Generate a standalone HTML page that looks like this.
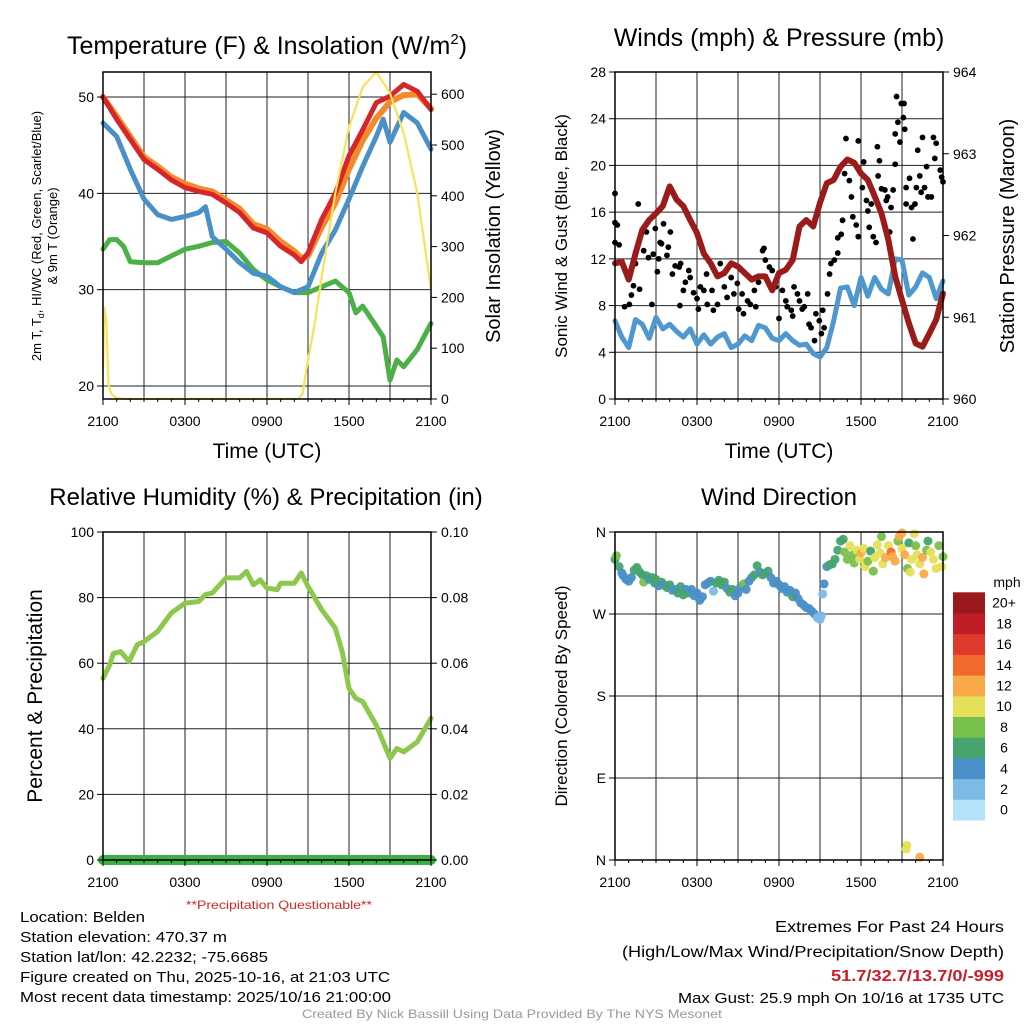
<!DOCTYPE html>
<html><head><meta charset="utf-8"><title>Mesonet Meteogram</title>
<style>
html,body{margin:0;padding:0;background:#fff;}
svg{display:block;font-family:"Liberation Sans",sans-serif;}
</style></head>
<body>
<svg id="fig" width="1024" height="1024" viewBox="0 0 1024 1024">
<rect width="1024" height="1024" fill="#fff"/>
<g id="layer"></g>
<!-- titles -->
<text x="267" y="54" font-size="25" text-anchor="middle">Temperature (F) &amp; Insolation (W/m<tspan font-size="15" dy="-10">2</tspan><tspan dy="10">)</tspan></text>
<text x="779" y="46" font-size="25" text-anchor="middle">Winds (mph) &amp; Pressure (mb)</text>
<text x="266" y="505" font-size="24" text-anchor="middle">Relative Humidity (%) &amp; Precipitation (in)</text>
<text x="779" y="505" font-size="24" text-anchor="middle">Wind Direction</text>
<!-- axis titles -->
<text x="267" y="458" font-size="21" text-anchor="middle">Time (UTC)</text>
<text x="779" y="458" font-size="21" text-anchor="middle">Time (UTC)</text>
<text transform="translate(41,236) rotate(-90)" font-size="13" text-anchor="middle">2m T, T<tspan font-size="9" dy="3">d</tspan><tspan dy="-3">, HI/WC (Red, Green, Scarlet/Blue)</tspan></text>
<text transform="translate(57,236) rotate(-90)" font-size="13" text-anchor="middle">&amp; 9m T (Orange)</text>
<text transform="translate(500,236) rotate(-90)" font-size="20" text-anchor="middle">Solar Insolation (Yellow)</text>
<text transform="translate(567,236) rotate(-90)" font-size="17" text-anchor="middle">Sonic Wind &amp; Gust (Blue, Black)</text>
<text transform="translate(1014,236) rotate(-90)" font-size="20" text-anchor="middle">Station Pressure (Maroon)</text>
<text transform="translate(42,696) rotate(-90)" font-size="21" text-anchor="middle">Percent &amp; Precipitation</text>
<text transform="translate(567,696) rotate(-90)" font-size="17" text-anchor="middle">Direction (Colored By Speed)</text>
<text x="279" y="909" font-size="12" fill="#d7262a" text-anchor="middle" textLength="186" lengthAdjust="spacingAndGlyphs">**Precipitation Questionable**</text>
<!-- info text -->
<g font-size="15">
<text x="20" y="922" textLength="125" lengthAdjust="spacingAndGlyphs">Location: Belden</text>
<text x="20" y="942" textLength="207" lengthAdjust="spacingAndGlyphs">Station elevation: 470.37 m</text>
<text x="20" y="962" textLength="248" lengthAdjust="spacingAndGlyphs">Station lat/lon: 42.2232; -75.6685</text>
<text x="20" y="982" textLength="370" lengthAdjust="spacingAndGlyphs">Figure created on Thu, 2025-10-16, at 21:03 UTC</text>
<text x="20" y="1002" textLength="371" lengthAdjust="spacingAndGlyphs">Most recent data timestamp: 2025/10/16 21:00:00</text>
</g>
<g font-size="16" text-anchor="end">
<text x="1004" y="932" textLength="229" lengthAdjust="spacingAndGlyphs">Extremes For Past 24 Hours</text>
<text x="1004" y="957" textLength="382" lengthAdjust="spacingAndGlyphs">(High/Low/Max Wind/Precipitation/Snow Depth)</text>
<text x="1004" y="981" font-weight="bold" fill="#c8202a" textLength="173" lengthAdjust="spacingAndGlyphs">51.7/32.7/13.7/0/-999</text>
<text x="1004" y="1003" font-size="15" textLength="326" lengthAdjust="spacingAndGlyphs">Max Gust: 25.9 mph On 10/16 at 1735 UTC</text>
</g>
<text x="512" y="1018" font-size="12" fill="#999" text-anchor="middle" textLength="420" lengthAdjust="spacingAndGlyphs">Created By Nick Bassill Using Data Provided By The NYS Mesonet</text>
</svg>
<script>
// ---- data ----
const hourTicks = ["2100","0300","0900","1500","2100"];
const tempHours = [0,1,2,3,4,5,6,7,8,9,10,11,12,13,14,14.5,15,16,17,18,19,20,21,22,23,24];
const temp2m = [50,47.7,45.6,43.5,42.5,41.4,40.6,40.2,39.9,39,38,36.4,35.9,34.5,33.6,32.9,33.8,37.3,40,43.9,46.6,49.4,50.1,51.3,50.6,48.7];
const temp9m = [50,48,45.9,43.8,42.8,41.7,41,40.5,40.2,39.3,38.4,36.8,36.3,35,34,33.3,33.5,36.5,39,42.5,45.5,47.8,49.5,50.2,50.3,48.8];
const hiwcHours = [0,1,2,3,4,5,6,7,7.5,8,9,10,11,12,13,14,15,16,17,18,19,20,20.5,21,22,23,24];
const hiwcVals = [47.3,45.9,42.5,39.4,37.8,37.3,37.6,38,38.6,35.5,34.2,32.8,31.7,31.4,30.3,29.7,30.3,33.8,36.2,39.4,42.8,45.9,47.7,45.3,48.4,47.3,44.6];
const dewHours = [0,0.5,1,1.5,2,3,4,5,6,7,8,9,10,11,12,13,14,15,16,17,18,18.5,19,20,20.5,21,21.5,22,23,24];
const dewVals = [34.2,35.2,35.2,34.5,32.9,32.8,32.8,33.5,34.2,34.5,34.9,35,33.8,32.1,31,30.3,29.7,29.7,30.3,30.9,29.7,27.6,28.3,26.2,25.1,20.6,22.7,22,23.8,26.5];
const solarHours = [0,0.1,0.25,0.4,0.6,1,1.5,14.3,14.6,15,15.5,16,17,18,19,20,21,22,23,24];
const solarVals = [60,180,150,30,10,2,0,0,10,77,150,240,405,535,614,644,602,523,405,215];

const windHours = [0,0.5,1,1.5,2,2.5,3,3.5,4,4.5,5,5.5,6,6.5,7,7.5,8,8.5,9,9.5,10,10.5,11,11.5,12,12.5,13,13.5,14,14.5,15,15.5,16,16.5,17,17.5,18,18.5,19,19.5,20,20.5,21,21.5,22,22.5,23,23.5,24];
const windVals = [6.7,5.3,4.4,6.8,6.4,5.2,7,6,6.4,5.8,5.3,6,4.7,5.5,4.7,5.3,5.6,4.4,4.7,5.4,5,6.3,6.1,5.2,5,5.6,5,4.6,4.7,3.9,3.6,4.4,6.7,9.5,9.6,8,10.4,8.8,10.4,9.4,9,12,11.9,8.9,9.6,10.8,10.4,8.6,10.1];
const presHours = [0,0.5,1,1.5,2,2.5,3,3.5,4,4.5,5,5.5,6,6.5,7,7.5,8,8.5,9,9.5,10,10.5,11,11.5,12,12.5,13,13.5,14,14.5,15,15.5,16,16.5,17,17.5,18,18.5,19,19.5,20,20.5,21,21.5,22,22.5,23,23.5,24];
const presVals = [961.66,961.68,961.46,961.78,962.07,962.19,962.27,962.36,962.6,962.44,962.36,962.19,962.03,961.78,961.66,961.5,961.54,961.66,961.62,961.54,961.46,961.5,961.5,961.33,961.54,961.58,961.7,962.11,962.19,962.11,962.4,962.64,962.68,962.84,962.93,962.89,962.76,962.68,962.48,962.27,961.95,961.5,961.21,960.93,960.68,960.64,960.8,960.97,961.29];
const gustHours = [0,0,0.17,0,0.3,0.7,1.05,1.2,1.35,1.7,1.8,1.5,2.1,2.3,2.45,2.8,2.95,3.2,3.3,3.4,3.55,3.8,3.9,4.05,3.1,2.7,4.2,4.4,4.7,4.8,4.75,5,5.15,5.4,5.5,5.75,6,6.1,6.25,6.5,6.7,6.75,7.1,7.2,7.5,7.7,8,8.2,8.5,8.7,8.95,9.05,9.3,9.4,9.7,9.9,10.2,10.3,10.5,10.8,10.9,11,11.3,11.5,11.75,12,12.25,12.5,12.6,12.9,13,13.1,13.35,13.5,13.7,13.85,14.1,14.2,14.35,14.6,14.7,14.95,15.1,15.2,15.3,15.55,15.7,15.8,16.05,16.3,16.3,16.55,16.65,16.9,16.8,17.15,17.3,17.4,17.65,17.8,17.8,18.1,18.2,18.4,18.5,18.6,18.75,18.9,19.1,19.2,19.25,19.35,19.5,19.75,19.85,19.95,20.1,20.2,20.35,20.5,20.5,20.6,20.7,20.85,20.95,21.1,21.15,21.2,21.3,21.3,21.55,21.7,21.8,22.05,21.95,22.15,22.3,22.4,22.5,22.65,22.8,22.9,23.15,23.3,23.4,23.5,23.8,23.9,24];
const gustVals = [17.6,15.1,14.9,13.4,13.2,7.9,8.1,8.9,9.7,16.7,9.4,11.6,12.7,14.3,12.1,12.4,14.6,12,13.4,13.3,15,12.3,13,14.3,10.9,8.1,10.7,11.4,11.3,11.6,8,9.3,10,11,10.4,9.1,8.6,7.7,9.6,9.3,10.7,8.1,9.3,7.6,8.1,11.6,9.6,8.7,10.4,9,9.9,7.7,9,7.3,8.4,8.1,9.3,7.9,10,12.7,12.9,11.9,11.3,11,9.6,6.9,9.3,8.4,7.9,7.6,7.1,9.6,9,8.4,7.7,7.9,9,6.4,6.1,5,7.3,6.7,5.6,7.6,6.1,9,10.7,11.6,11.9,12.5,13.8,14.1,15.3,22.3,19.3,18.7,17.3,15.6,14.9,13.9,22.1,18.1,20.3,17,16.1,14.7,16.7,13.9,13.4,21.6,19.1,20.4,18,17.9,17,17.3,14.3,16.4,17.9,20.1,22.7,25.9,23.7,22,25.3,24.1,25.3,23.1,18.1,16.7,18.9,16.4,13.7,18.1,16.7,21.3,19.1,17.7,22.4,18.1,19.9,17.3,17.3,22.4,20.6,21.9,19.6,19,18.6];

const rhHours = [0,0.5,0.75,1.3,1.9,2.5,3,4,5,6,7,7.5,8,9,10,10.5,11,11.5,12,12.75,13,14,14.5,15,16,17,17.5,18,18.5,19,20,21,21.5,22,23,24];
const rhVals = [55.4,59.5,63,63.5,60.5,65.6,66.6,69.7,75.3,78.3,78.8,80.9,81.4,86,86,88,83.9,85.4,82.9,82.4,84.4,84.4,87.5,83.4,76.3,70.7,63.5,52.3,49.3,48.3,41.1,31,34,33,36,43.2];
const precipHours = [0,24];
const precipVals = [0,0];

const dirHours = [0,0.1,0.3,0.5,0.6,0.8,1.0,1.2,1.4,1.6,1.8,2.0,2.1,2.3,2.5,2.7,2.9,3.0,3.2,3.4,3.6,3.8,4.0,4.2,4.4,4.6,4.8,5.0,5.2,5.4,5.6,5.8,6.0,6.2,6.4,6.6,6.8,7.0,7.2,7.4,7.6,7.8,8.0,8.2,8.4,8.6,8.8,9.0,9.2,9.4,9.6,9.8,10.0,10.2,10.4,10.6,10.8,11.0,11.2,11.4,11.6,11.8,12.0,12.2,12.4,12.6,12.8,13.0,13.2,13.4,13.6,13.8,14.0,14.2,14.4,14.6,14.8,15.0,15.1,15.2,15.3,15.5,15.7,15.9,16.1,16.3,16.5,16.7,16.8,17,17.2,17.4,17.5,17.7,17.9,18,18.2,18.3,18.5,18.7,18.9,19,19.2,19.4,19.5,19.6,19.8,20,20.2,20.3,20.5,20.7,20.8,21,21,21.2,21.4,21.5,21.6,21.7,21.9,22,22.1,22.3,22.5,22.6,22.8,22.9,23.1,23.3,23.5,23.7,23.9,24,21.3,21.35,22.3];
const dirDeg = [330,334,322,315,312,308,306,310,318,321,316,313,305,312,308,310,304,308,301,305,302,299,302,296,297,293,300,291,297,293,297,290,293,285,289,302,304,306,295,304,307,302,305,298,294,297,290,293,300,303,297,306,310,313,323,316,313,315,317,310,304,306,302,298,300,294,296,289,293,287,282,280,277,276,273,270,266,264,268,292,303,322,324,325,330,340,350,352,338,330,345,335,326,340,330,337,342,322,328,339,317,332,346,337,355,325,332,345,338,333,328,350,355,359,342,335,320,348,316,330,358,345,335,325,332,314,340,350,338,330,320,345,322,333,12,16,3];
const dirSpeed = [7,8,6,5,4,4,4,5,6,6,6,6,8,6,5,6,6,6,4,6,5,6,6,5,5,6,6,6,4,6,4,4,4,4,5,4,4,4,2,6,6,6,6,4,6,6,4,4,4,8,4,4,4,6,6,4,6,6,6,4,4,4,4,4,4,4,4,6,4,4,4,4,4,4,4,4,2,2,2,2,4,4,6,6,6,6,6,6,8,9,10,8,8,10,10,12,10,10,8,6,8,10,10,10,8,10,12,10,14,12,12,8,12,12,10,12,8,6,10,10,10,8,10,10,12,12,8,6,10,10,10,8,10,8,10,10,12];

const cbarLabels = ["0","2","4","6","8","10","12","14","16","18","20+"];
const cbarColors = ["#b4e2f8","#7dbbe6","#4a8fc8","#47a36e","#78c04c","#e6df58","#f9aa48","#f26a2b","#df3a2d","#c01e27","#99191d"];

// ---- helpers ----
const NS = "http://www.w3.org/2000/svg";
const layer = document.getElementById("layer");
function mk(tag, attrs, parent){
  const el = document.createElementNS(NS, tag);
  for (const k in attrs) el.setAttribute(k, attrs[k]);
  (parent||layer).appendChild(el);
  return el;
}
function panel(x0,x1,y0,y1){ return {x0,x1,y0,y1, xs:h=>x0+(x1-x0)*h/24}; }
function yScale(p, lo, hi){ return v => p.y1 - (v-lo)/(hi-lo)*(p.y1-p.y0); }

const P1 = panel(103,431,72,399), P2 = panel(615,943,72,399), P3 = panel(103,431,532,860), P4 = panel(615,943,532,860);
const yT = yScale(P1, 18.65, 52.6), yS = yScale(P1, 0, 643.7);
const yW = yScale(P2, 0, 28), yP = yScale(P2, 960, 964);
const yRH = yScale(P3, 0, 100), yPr = yScale(P3, 0, 0.1);
const yD = yScale(P4, 0, 360);

function grid(p, hvals, hname){
  for (let h=3; h<24; h+=3){
    const l = mk("line",{x1:p.xs(h),x2:p.xs(h),y1:p.y0,y2:p.y1,stroke:"#222","stroke-width":1});
    
    
  }
  hvals.forEach(y=>{
    const l = mk("line",{x1:p.x0,x2:p.x1,y1:y,y2:y,stroke:"#222","stroke-width":1});
    
    
  });
}
function frame(p, name){
  const r = mk("rect",{x:p.x0,y:p.y0,width:p.x1-p.x0,height:p.y1-p.y0,fill:"none",stroke:"#000","stroke-width":1.5});
  
  
  hourTicks.forEach((t,i)=>{
    const x = p.xs(i*6);
    const tl = mk("line",{x1:x,x2:x,y1:p.y1,y2:p.y1+6,stroke:"#000"});
    
    
    const tx = mk("text",{x:x,y:p.y1+27,"font-size":14,"text-anchor":"middle"});
    tx.textContent = t;
    
    
  });
  for (let h=1; h<24; h++){
    if (h%6===0) continue;
    const x=p.xs(h);
    const ml = mk("line",{x1:x,x2:x,y1:p.y1,y2:p.y1+3,stroke:"#000"});
    
    
  }
}
function yAxis(p, side, vals, labels, ys, name){
  vals.forEach((v,i)=>{
    const y = ys(v);
    const x = side==="left"?p.x0:p.x1;
    const d = side==="left"?-6:6;
    const tl = mk("line",{x1:x,x2:x+d,y1:y,y2:y,stroke:"#000"});
    
    
    const tx = mk("text",{x:side==="left"?x-9:x+10,y:y+5,"font-size":14,"text-anchor":side==="left"?"end":"start"});
    tx.textContent = labels[i];
    
    
  });
}
function line(p, hours, vals, ys, color, w, name){
  const pts = hours.map((h,i)=>p.xs(h).toFixed(1)+","+ys(vals[i]).toFixed(1)).join(" ");
  const pl = mk("polyline",{points:pts,fill:"none",stroke:color,"stroke-width":w,"stroke-linejoin":"round","stroke-linecap":"round"});
  
  
}

// ---- panel 1 ----
grid(P1, [20,30,40,50].map(yT), "temp");
line(P1, dewHours, dewVals, yT, "#4cb048", 5, "dewpoint-line");
line(P1, hiwcHours, hiwcVals, yT, "#4a90c8", 5, "heat-index-windchill-line");
line(P1, tempHours, temp9m, yT, "#f58a2c", 6, "temp-9m-line");
line(P1, tempHours, temp2m, yT, "#d7262a", 5, "temp-2m-line");
line(P1, solarHours, solarVals, yS, "#fbe05a", 2.2, "solar-insolation-line");
frame(P1, "temp");
yAxis(P1,"left",[20,30,40,50],["20","30","40","50"],yT,"temp-y-axis");
yAxis(P1,"right",[0,100,200,300,400,500,600],["0","100","200","300","400","500","600"],yS,"insolation-y-axis");

// ---- panel 2 ----
grid(P2, [4,8,12,16,20,24].map(yW), "wind");
line(P2, windHours, windVals, yW, "#4f97cf", 5, "sonic-wind-line");
gustHours.forEach((h,i)=>{
  const c = mk("circle",{cx:P2.xs(h),cy:yW(gustVals[i]),r:2.9,fill:"#000"});
  
  
});
line(P2, presHours, presVals, yP, "#9b1b1b", 6, "pressure-line");
frame(P2, "wind");
yAxis(P2,"left",[0,4,8,12,16,20,24,28],["0","4","8","12","16","20","24","28"],yW,"wind-y-axis");
yAxis(P2,"right",[960,961,962,963,964],["960","961","962","963","964"],yP,"pressure-y-axis");

// ---- panel 3 ----
grid(P3, [20,40,60,80].map(yRH), "humidity");
line(P3, rhHours, rhVals, yRH, "#8cc84b", 5, "relative-humidity-line");
line(P3, precipHours, precipVals, yPr, "#3fae45", 10, "precipitation-line");
frame(P3, "humidity");
yAxis(P3,"left",[0,20,40,60,80,100],["0","20","40","60","80","100"],yRH,"humidity-y-axis");
yAxis(P3,"right",[0,0.02,0.04,0.06,0.08,0.1],["0.00","0.02","0.04","0.06","0.08","0.10"],yPr,"precip-y-axis");

// ---- panel 4 ----
grid(P4, [90,180,270].map(yD), "direction");
function spdColor(s){ return cbarColors[Math.min(10, Math.floor(s/2))]; }
dirHours.forEach((h,i)=>{
  const c = mk("circle",{cx:P4.xs(h),cy:yD(dirDeg[i]),r:4.5,fill:spdColor(dirSpeed[i]),"fill-opacity":0.95});
  
  
});
frame(P4, "direction");
yAxis(P4,"left",[0,90,180,270,360],["N","E","S","W","N"],yD,"direction-y-axis");

// colorbar
const cb0 = 820, cbH = 20.7;
cbarColors.forEach((col,i)=>{
  const r = mk("rect",{x:953,y:cb0-(i+1)*cbH,width:32,height:cbH+0.5,fill:col});
  
  
  const t = mk("text",{x:1004,y:cb0-(i+0.5)*cbH+5,"font-size":14,"text-anchor":"middle"});
  t.textContent = cbarLabels[i];
  
  
});
const mt = mk("text",{x:1007,y:587,"font-size":14,"text-anchor":"middle"});
mt.textContent = "mph";


</script>
</body></html>
